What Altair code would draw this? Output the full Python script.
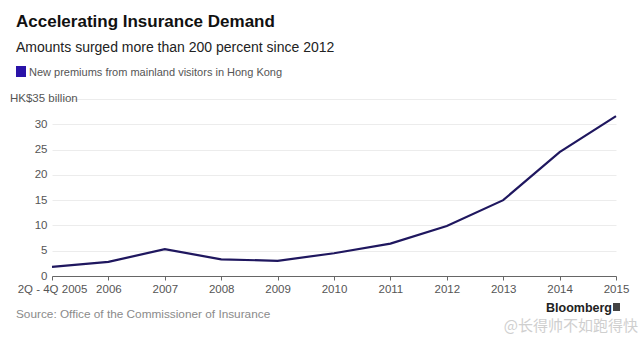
import altair as alt
import pandas as pd

years = ["2Q - 4Q 2005", "2006", "2007", "2008", "2009", "2010", "2011", "2012", "2013", "2014", "2015"]
premiums = [1.8, 2.8, 5.3, 3.3, 3.0, 4.5, 6.4, 9.9, 15.0, 24.5, 31.6]
y_ticks = [0, 5, 10, 15, 20, 25, 30, 35]

df = pd.DataFrame({"year": years, "value": premiums})

FONT = "Liberation Sans"
GREY = "#8a8a8a"
LINE = "#1f175f"

base = alt.Chart(df)

line = base.mark_line(color=LINE, strokeWidth=2.2).encode(
    x=alt.X("year:O", sort=years,
            scale=alt.Scale(type="point", padding=0),
            axis=alt.Axis(title=None, labelAngle=0, labelFont=FONT, labelFontSize=11.5,
                          labelColor="#555555", domainColor="#666666", tickColor="#666666",
                          tickSize=4, labelPadding=3, grid=False)),
    y=alt.Y("value:Q", scale=alt.Scale(domain=[0, 35], nice=False),
            axis=alt.Axis(title=None, values=y_ticks, labelFont=FONT, labelFontSize=11.5,
                          labelColor="#555555", ticks=False, domain=False, labelPadding=5,
                          gridColor="#ececec", gridWidth=1,
                          labelExpr="datum.value == 35 ? '' : datum.label")),
)

def txt(text, x, y, size=11, color=GREY, weight="normal", align="left", baseline="alphabetic", font=FONT):
    return alt.Chart(alt.Data(values=[{"t": text}])).mark_text(
        align=align, baseline=baseline, fontSize=size, color=color, fontWeight=weight, font=font
    ).encode(text="t:N", x=alt.value(x), y=alt.value(y))

title = txt("Accelerating Insurance Demand", -36, -72, size=17, color="#111111", weight="bold")
subtitle = txt("Amounts surged more than 200 percent since 2012", -36, -47, size=14, color="#222222")
legend_text = txt("New premiums from mainland visitors in Hong Kong", -23, -23, size=11, color="#555555")
swatch = alt.Chart(alt.Data(values=[{"a": 1}])).mark_rect(color="#2a13a8").encode(
    x=alt.value(-36), x2=alt.value(-26), y=alt.value(-33), y2=alt.value(-22))
unit = txt("HK$35 billion", -42, 0, size=11.5, color="#555555", baseline="middle")
source = txt("Source: Office of the Commissioner of Insurance", -36, 219, size=11.8, color=GREY)
bloomberg = txt("Bloomberg", 560, 213, size=12.5, color="#222222", weight="bold", align="right")
logo = alt.Chart(alt.Data(values=[{"a": 1}])).mark_rect(color="#444444").encode(
    x=alt.value(561), x2=alt.value(568), y=alt.value(204), y2=alt.value(212))
watermark = txt("@长得帅不如跑得快", 586, 227, size=15, color="#cfcfcf", align="right",
                baseline="middle", font="Noto Sans CJK SC")

chart = alt.layer(line, title, subtitle, swatch, legend_text, unit, source, bloomberg, logo, watermark).properties(
    width=564, height=177,
    padding={"left": 52, "top": 99, "right": 24, "bottom": 62},
    autosize=alt.AutoSizeParams(type="none"),
    background="white",
).configure_view(stroke=None)

chart.save("out.html", embed_options={"renderer": "svg", "actions": False})
